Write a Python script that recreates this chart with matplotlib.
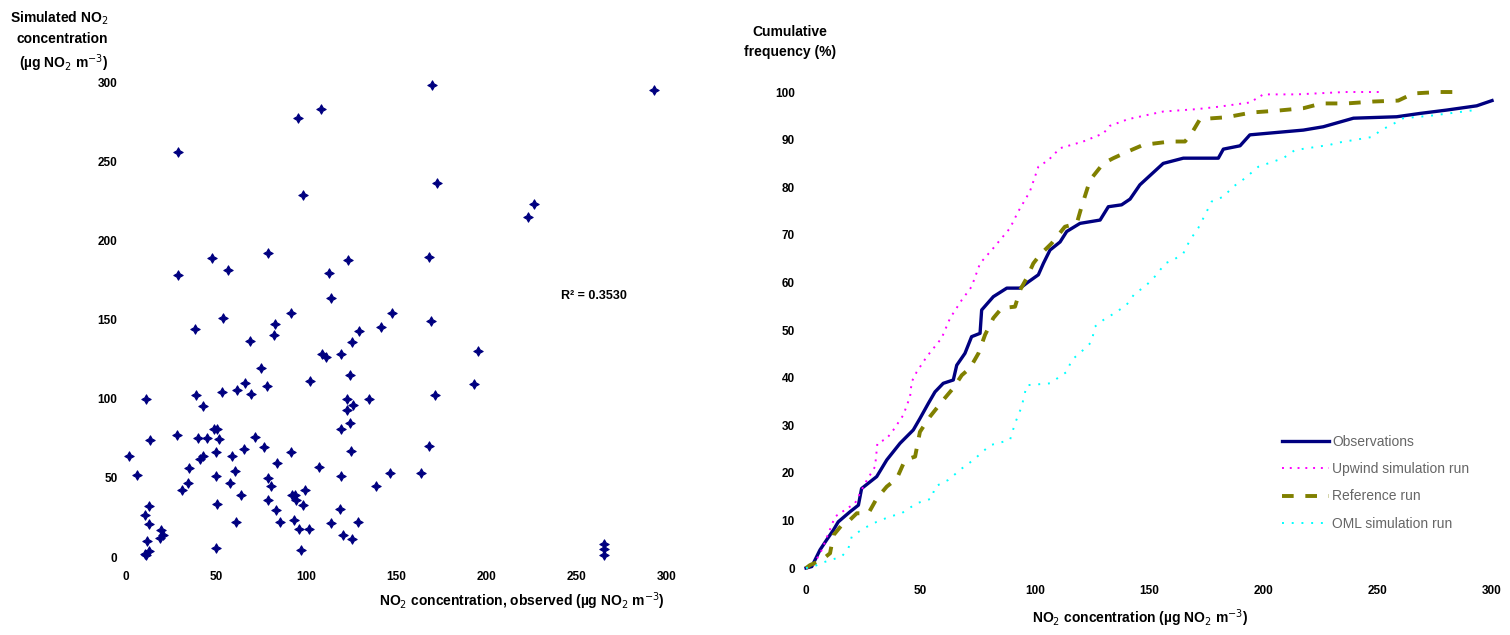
import numpy as np
from matplotlib import pyplot as plt

plt.rcParams['font.family'] = ['Liberation Sans', 'DejaVu Sans']

# Left panel: observed vs simulated NO2
obs_x = [169.6, 292.6, 108.3, 95.3, 29.1, 172.3, 98.1, 226.0, 223.0, 78.5,
         47.7, 123.0, 168.3, 56.6, 28.7, 112.6, 113.6, 54.0, 91.3, 147.7,
         169.1, 38.5, 82.6, 81.9, 141.7, 129.4, 125.1, 68.7, 195.1, 108.9,
         111.1, 119.4, 75.1, 124.5, 102.3, 66.2, 78.1, 193.2, 61.7, 53.2,
         39.1, 69.2, 171.5, 11.1, 134.7, 122.6, 43.0, 126.0, 122.8, 124.0,
         119.4, 50.4, 28.1, 40.0, 44.7, 51.5, 13.4, 71.5, 76.6, 65.3,
         168.3, 1.7, 50.0, 91.5, 124.7, 58.7, 43.0, 41.3, 83.6, 106.8,
         35.1, 60.6, 6.0, 49.8, 119.4, 146.2, 163.8, 78.7, 80.2, 57.9,
         34.3, 138.7, 31.1, 99.4, 63.6, 93.8, 78.5, 94.3, 50.6, 98.3,
         12.6, 10.6, 83.2, 118.5, 12.6, 60.9, 85.5, 93.2, 113.8, 128.5,
         96.0, 101.5, 120.6, 125.1, 19.6, 18.9, 11.9, 265.3, 265.3, 265.3,
         49.8, 97.2, 10.4, 12.8, 11.1, 20.6, 49.1, 91.9]
sim_y = [298.3, 294.7, 282.7, 277.5, 255.8, 236.4, 228.8, 222.7, 214.7, 192.2,
         189.0, 187.8, 189.5, 181.5, 178.3, 179.6, 163.4, 151.2, 154.1, 154.1,
         149.1, 143.8, 147.0, 140.0, 145.3, 142.7, 135.8, 136.4, 129.9, 128.4,
         126.3, 128.0, 119.6, 115.2, 111.2, 109.7, 107.8, 109.1, 105.3, 104.2,
         102.3, 103.2, 102.5, 100.0, 99.8, 99.8, 95.2, 95.8, 93.1, 84.6,
         81.1, 81.1, 76.8, 75.2, 75.2, 74.7, 74.1, 75.8, 69.5, 68.0,
         69.9, 63.6, 66.3, 66.3, 66.9, 63.6, 63.6, 61.7, 59.4, 56.8,
         56.4, 54.3, 51.6, 51.2, 51.2, 53.3, 53.1, 49.9, 44.6, 46.7,
         46.9, 44.6, 42.1, 42.1, 38.9, 38.9, 35.8, 36.2, 33.3, 32.6,
         32.0, 26.3, 29.5, 30.1, 21.1, 22.1, 22.1, 23.2, 21.5, 22.1,
         17.9, 17.9, 14.1, 11.2, 16.8, 12.0, 10.3, 8.4, 5.3, 1.1,
         5.7, 4.6, 2.1, 3.8, 1.5, 13.7, 81.1, 39.4]
ticks_300 = [0, 50, 100, 150, 200, 250, 300]
r2_text = 'R² = 0.3530'

# Right panel: cumulative frequency curves
obs_conc = [0, 2.5, 6.1, 9.0, 12.0, 14.1, 19.2, 22.9, 24.3, 30.9, 35.3, 41.1, 46.9,
            49.8, 53.5, 56.4, 60.0, 64.4, 65.9, 69.5, 72.4, 76.1, 76.8, 81.9,
            87.8, 93.6, 97.2, 101.6, 103.8, 106.7, 111.1, 114.0, 119.8, 128.6,
            132.2, 138.0, 141.7, 146.0, 156.2, 165.0, 180.3, 182.5, 189.8, 194.1,
            205.8, 217.5, 226.2, 239.4, 258.3, 268.5, 280.1, 293.3, 300.0]
obs_freq = [0, 0.3, 3.8, 5.9, 8.0, 9.7, 11.8, 13.2, 16.7, 19.2, 22.7, 26.2, 29.0,
            31.4, 34.6, 37.0, 38.8, 39.5, 42.6, 45.1, 48.6, 49.3, 54.2, 57.0,
            58.8, 58.8, 60.1, 61.6, 64.0, 66.8, 68.5, 70.7, 72.4, 73.1,
            75.9, 76.3, 77.5, 80.5, 85.0, 86.1, 86.1, 88.0, 88.7, 91.0,
            91.5, 92.0, 92.7, 94.5, 94.8, 95.5, 96.2, 97.1, 98.2]

mag_conc = [0, 3.2, 6.9, 9.8, 12.7, 21.4, 23.6, 25.8, 30.2, 31.2, 35.3, 38.2, 42.5,
            45.5, 46.2, 48.4, 52.8, 59.3, 63.0, 68.1, 72.4, 76.1, 81.9, 89.2,
            92.8, 97.9, 101.6, 106.0, 111.1, 121.2, 130.0, 132.9, 140.9, 156.2,
            170.8, 180.3, 194.1, 200.0, 214.6, 235.7, 251.0]
mag_freq = [0, 0.6, 3.8, 7.3, 10.8, 13.6, 15.7, 17.8, 21.3, 26.2, 27.2, 29.0, 32.1,
            36.0, 39.1, 41.2, 44.4, 48.3, 52.5, 56.3, 59.1, 64.0, 67.2, 71.4,
            74.9, 79.1, 84.3, 85.7, 88.2, 89.6, 91.3, 92.9, 94.3, 95.9,
            96.4, 96.9, 97.8, 99.5, 99.5, 100.0, 100.0]

olv_conc = [0, 1.7, 6.9, 10.5, 12.0, 15.6, 19.2, 22.2, 27.3, 30.9, 35.3, 39.7, 43.3,
            47.7, 49.8, 54.2, 60.0, 64.4, 68.1, 71.7, 75.4, 78.3, 81.9, 85.6,
            91.4, 93.6, 96.5, 99.4, 102.3, 107.4, 113.2, 118.4, 120.5, 124.2,
            130.0, 134.4, 141.7, 147.5, 159.2, 165.7, 168.6, 172.3, 183.9,
            194.9, 206.5, 217.5, 225.5, 236.4, 248.1, 259.0, 265.6, 276.5, 287.5]
olv_freq = [0, 0.6, 1.7, 3.1, 6.9, 9.0, 10.1, 11.5, 11.5, 14.6, 17.1, 18.8, 22.7,
            23.4, 28.6, 31.8, 35.3, 37.8, 40.5, 42.0, 45.1, 49.0, 52.5, 54.6,
            54.9, 58.4, 60.9, 64.0, 65.8, 68.2, 71.7, 72.4, 75.9, 81.5,
            85.0, 86.1, 87.7, 88.9, 89.6, 89.6, 91.3, 94.3, 94.7,
            95.7, 96.1, 96.6, 97.6, 97.6, 98.0, 98.2, 99.7, 100.0, 100.0]

cyn_conc = [0, 3.2, 8.3, 15.6, 18.5, 20.0, 25.1, 30.9, 36.7, 41.8, 48.4, 55.0, 56.4,
            62.2, 68.1, 73.2, 80.5, 89.2, 91.4, 94.3, 96.5, 106.7, 114.0, 116.2,
            121.2, 124.9, 126.3, 130.0, 135.8, 140.2, 143.8, 148.2, 153.3, 157.0,
            160.6, 165.0, 167.9, 171.5, 174.5, 177.4, 182.5, 186.8, 192.0, 197.8,
            208.7, 213.8, 229.1, 232.0, 248.1, 251.0, 256.1, 261.2, 272.8, 292.5]
cyn_freq = [0, 0.3, 1.3, 2.4, 4.1, 6.6, 8.3, 9.7, 10.8, 11.5, 13.6, 14.6, 17.1,
            18.5, 20.9, 22.7, 25.8, 26.9, 30.4, 33.9, 38.4, 38.8, 41.2, 43.7,
            45.8, 47.5, 50.7, 52.1, 53.8, 55.3, 57.7, 59.1, 61.6, 64.0,
            64.7, 66.1, 68.9, 71.4, 74.2, 77.0, 78.0, 80.1, 81.9, 84.3,
            86.1, 87.8, 88.9, 89.3, 90.6, 91.9, 93.1, 94.5, 95.0, 96.2]

series_labels = ['Observations', 'Upwind simulation run', 'Reference run', 'OML simulation run']
freq_ticks = [0, 10, 20, 30, 40, 50, 60, 70, 80, 90, 100]

fig = plt.figure(figsize=(15.1, 6.35), dpi=100)

# ---- left scatter
ax1 = fig.add_axes([0.0834, 0.1228, 0.3583, 0.748])
ax1.scatter(obs_x, sim_y, marker=(4, 1, 0), s=45, color='#000080', lw=0.8, clip_on=False)
ax1.set_xlim(0, 300)
ax1.set_ylim(0, 300)
ax1.set_xticks(ticks_300)
ax1.set_yticks(ticks_300)
for s in ax1.spines.values():
    s.set_visible(False)
ax1.tick_params(length=0, labelsize=8.5)
ax1.tick_params(axis='x', pad=10)
ax1.tick_params(axis='y', pad=6)
for lab in ax1.get_xticklabels() + ax1.get_yticklabels():
    lab.set_fontweight('bold')
ax1.text(241, 165, r2_text, fontsize=9, va='center', fontweight='bold')
fig.text(665/1510, 1 - 601/635, 'NO$_2$ concentration, observed (µg NO$_2$ m$^{-3}$)',
         fontsize=10, ha='right', va='center', fontweight='bold')
fig.text(108/1510, 1 - 42/635, 'Simulated NO$_2$\nconcentration\n(µg NO$_2$ m$^{-3}$)',
         fontsize=10, ha='right', va='center', linespacing=1.45, fontweight='bold',
         multialignment='right')

# ---- right cumulative frequencies
ax2 = fig.add_axes([0.5338, 0.1055, 0.4543, 0.7496])
ax2.plot(obs_conc, obs_freq, color='#000080', lw=2.4, label=series_labels[0], clip_on=False)
ax2.plot(mag_conc, mag_freq, color='#FF00FF', lw=1.4, ls=(0, (1, 3)), label=series_labels[1], clip_on=False)
ax2.plot(olv_conc, olv_freq, color='#808000', lw=2.8, ls=(0, (3, 3)), label=series_labels[2], clip_on=False)
ax2.plot(cyn_conc, cyn_freq, color='#00FFFF', lw=1.4, ls=(0, (1, 4)), label=series_labels[3], clip_on=False)
ax2.set_xlim(0, 300)
ax2.set_ylim(0, 100)
ax2.set_xticks(ticks_300)
ax2.set_yticks(freq_ticks)
for s in ax2.spines.values():
    s.set_visible(False)
ax2.tick_params(length=0, labelsize=8.5)
ax2.tick_params(axis='x', pad=12)
ax2.tick_params(axis='y', pad=8)
for lab in ax2.get_xticklabels() + ax2.get_yticklabels():
    lab.set_fontweight('bold')
ax2.legend(loc='upper left', bbox_to_anchor=(1282/1510, 1 - 435/635),
           bbox_transform=fig.transFigure, borderaxespad=0, borderpad=0,
           frameon=False, fontsize=10, handlelength=3.4, labelspacing=0.95,
           handletextpad=0.2, labelcolor='#666666')
fig.text(1140/1510, 1 - 618/635, 'NO$_2$ concentration (µg NO$_2$ m$^{-3}$)',
         fontsize=10, ha='center', va='center', fontweight='bold')
fig.text(790/1510, 1 - 42/635, 'Cumulative\nfrequency (%)', fontsize=10, ha='center',
         va='center', fontweight='bold', linespacing=1.5)

fig.savefig('out.png', dpi=100)
